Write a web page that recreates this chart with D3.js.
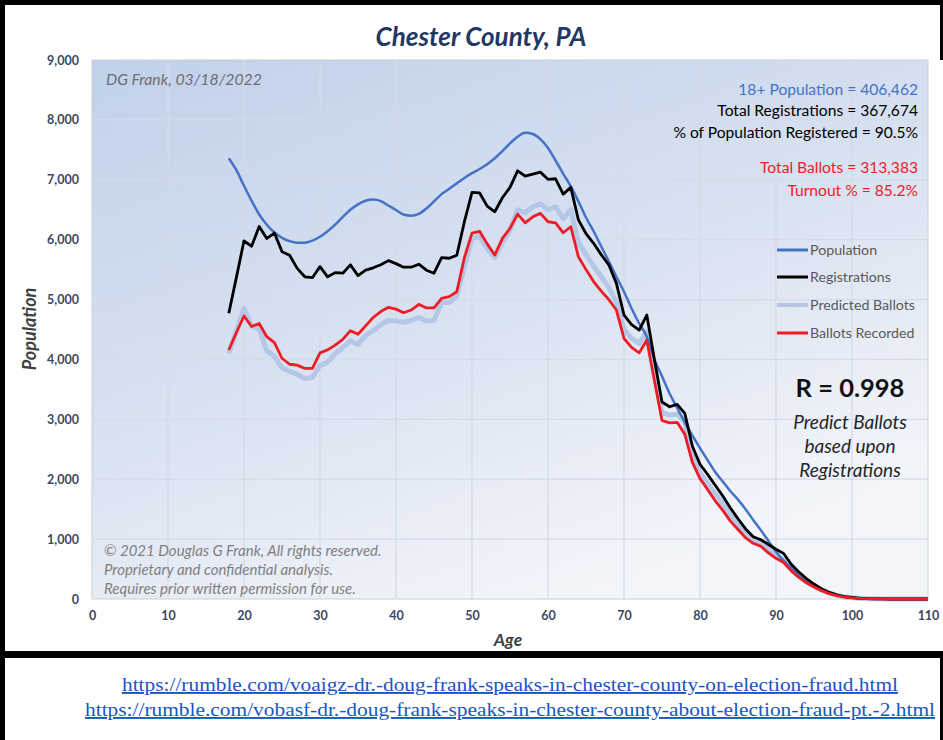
<!DOCTYPE html>
<html>
<head>
<meta charset="utf-8">
<script src="https://cdn.jsdelivr.net/npm/d3@7"></script>
<style>
  body { margin: 0; background: #fff; }
  svg { display: block; }
</style>
</head>
<body>
<div id="chart"></div>
<script>
// ages 18..110
let ages = d3.range(18, 111);

let population = [
  7360, 7160, 6900, 6650, 6420, 6250, 6120, 6030, 5975, 5950,
  5950, 5985, 6048, 6140, 6250, 6380, 6500, 6590, 6650, 6670,
  6645, 6570, 6495, 6420, 6400, 6430, 6520, 6640, 6760, 6850,
  6940, 7030, 7110, 7180, 7260, 7360, 7480, 7607, 7720, 7785,
  7765, 7680, 7530, 7320, 7100, 6890, 6640, 6370, 6140, 5890,
  5640, 5381, 5130, 4850, 4600, 4379, 4000, 3720, 3430, 3190,
  2950, 2730, 2520, 2320, 2120, 1960, 1800, 1660, 1500, 1320,
  1150, 970, 790, 640, 510, 390, 290, 210, 150, 100,
  60, 40, 25, 15, 10, 5, 3, 2, 1, 0,
  0, 0, 0
];

let registrations = [
  4770, 5370, 5980, 5890, 6220, 6020, 6110, 5800, 5740, 5520,
  5380, 5365, 5550, 5380, 5450, 5440, 5580, 5400, 5490, 5530,
  5580, 5650, 5600, 5540, 5540, 5590, 5490, 5440, 5700, 5690,
  5740, 6300, 6790, 6780, 6560, 6466, 6700, 6873, 7150, 7062,
  7095, 7128, 7007, 7017, 6761, 6873, 6330, 6100, 5940, 5750,
  5580, 5270, 4740, 4580, 4490, 4741, 4000, 3290, 3210, 3250,
  3100, 2550, 2250, 2080, 1900, 1720, 1520, 1340, 1170, 1040,
  990, 910, 830, 760, 580, 450, 340, 250, 170, 110,
  70, 40, 25, 12, 6, 3, 1, 0, 0, 0,
  0, 0, 0
];

let predicted = [
  4100, 4480, 4850, 4560, 4500, 4150, 4050, 3860, 3800, 3750,
  3680, 3700, 3900, 3950, 4100, 4200, 4310, 4250, 4400, 4480,
  4580, 4650, 4640, 4620, 4650, 4700, 4640, 4650, 4950, 4950,
  5050, 5550, 6020, 6060, 5850, 5700, 5950, 6150, 6500, 6450,
  6550, 6600, 6500, 6550, 6350, 6500, 5950, 5750, 5560, 5380,
  5200, 4960, 4500, 4350, 4270, 4460, 3760, 3110, 3070, 3090,
  2950, 2420, 2110, 1940, 1760, 1590, 1410, 1250, 1100, 990,
  930, 830, 730, 650, 510, 390, 290, 215, 150, 100,
  60, 35, 20, 11, 6, 3, 1, 0, 0, 0,
  0, 0, 0
];

let ballots = [
  4157, 4450, 4725, 4550, 4600, 4380, 4280, 4020, 3920, 3905,
  3850, 3850, 4110, 4160, 4240, 4335, 4480, 4420, 4560, 4700,
  4800, 4870, 4840, 4780, 4825, 4920, 4860, 4860, 5020, 5050,
  5130, 5700, 6110, 6140, 5930, 5743, 6022, 6188, 6427, 6282,
  6382, 6439, 6299, 6282, 6115, 6216, 5715, 5500, 5300, 5140,
  5000, 4825, 4350, 4200, 4110, 4324, 3650, 2980, 2940, 2950,
  2750, 2280, 2010, 1830, 1640, 1480, 1300, 1160, 1020, 930,
  880, 770, 680, 610, 470, 360, 270, 200, 140, 90,
  55, 30, 18, 10, 5, 2, 1, 0, 0, 0,
  0, 0, 0
];

let xTicks = [0, 10, 20, 30, 40, 50, 60, 70, 80, 90, 100, 110];
let yTicks = [0, 1000, 2000, 3000, 4000, 5000, 6000, 7000, 8000, 9000];

let seriesNames = ["Population", "Registrations", "Predicted Ballots", "Ballots Recorded"];
let seriesColors = ["#4472c4", "#000000", "#b4c7e7", "#ee1c25"];
let seriesWidths = [2.5, 2.8, 5, 2.8];

let statLines = [
  "18+ Population = 406,462",
  "Total Registrations = 367,674",
  "% of Population Registered = 90.5%",
  "Total Ballots = 313,383",
  "Turnout % = 85.2%"
];
let statColors = ["#4472c4", "#000", "#000", "#ee1c25", "#ee1c25"];

let copyright = [
  "\u00a9 2021 Douglas G Frank, All rights reserved.",
  "Proprietary and confidential analysis.",
  "Requires prior written permission for use."
];

let links = [
  "https://rumble.com/voaigz-dr.-doug-frank-speaks-in-chester-county-on-election-fraud.html",
  "https://rumble.com/vobasf-dr.-doug-frank-speaks-in-chester-county-about-election-fraud-pt.-2.html"
];
let linkWidths = [776, 850];

let width = 943, height = 740;
let font = "Lato, 'Open Sans', sans-serif";

let svg = d3.select("#chart")
    .append("svg")
    .attr("width", width)
    .attr("height", height)
    .style("font-family", font);

svg.append("rect").attr("width", width).attr("height", height).attr("fill", "#fff");

let x = d3.scaleLinear().domain([0, 110]).range([92, 928]);
let y = d3.scaleLinear().domain([0, 9000]).range([599, 60]);

// plot background gradient
let defs = svg.append("defs");
let grad = defs.append("linearGradient")
    .attr("id", "bg")
    .attr("x1", 0).attr("y1", 0).attr("x2", 0.55).attr("y2", 1);
grad.append("stop").attr("offset", "0%").attr("stop-color", "#c1d1eb");
grad.append("stop").attr("offset", "55%").attr("stop-color", "#d9e2f1");
grad.append("stop").attr("offset", "100%").attr("stop-color", "#f3f5fa");

svg.append("rect")
    .attr("x", x(0))
    .attr("y", y(9000))
    .attr("width", x(110) - x(0))
    .attr("height", y(0) - y(9000))
    .attr("fill", "url(#bg)")
    .attr("stroke", "#c9ced8")
    .attr("stroke-width", 1);

// grid
svg.append("g").selectAll("line").data(yTicks.slice(1, -1))
    .enter().append("line")
    .attr("x1", x(0)).attr("x2", x(110))
    .attr("y1", d => y(d)).attr("y2", d => y(d))
    .attr("stroke", "#d5dbe7").attr("stroke-width", 1.3);

svg.append("g").selectAll("line").data(xTicks.slice(1, -1))
    .enter().append("line")
    .attr("x1", d => x(d)).attr("x2", d => x(d))
    .attr("y1", y(9000)).attr("y2", y(0))
    .attr("stroke", "#d5dbe7").attr("stroke-width", 1.3);

// axes
let yAxis = svg.append("g")
    .attr("transform", `translate(${x(0)}, 0)`)
    .call(d3.axisLeft(y).tickValues(yTicks).tickFormat(d3.format(",")).tickSize(0).tickPadding(13));
let xAxis = svg.append("g")
    .attr("transform", `translate(0, ${y(0)})`)
    .call(d3.axisBottom(x).tickValues(xTicks).tickSize(0).tickPadding(12));

[yAxis, xAxis].forEach(function(a) {
    a.select(".domain").remove();
    a.selectAll("text")
        .style("font-family", font)
        .style("font-size", "12.5px")
        .style("font-weight", "bold")
        .attr("fill", "#3b4763");
});

// series
let line = d3.line()
    .x((d, i) => x(ages[i]))
    .y(d => y(d));
let smooth = d3.line()
    .x((d, i) => x(ages[i]))
    .y(d => y(d))
    .curve(d3.curveMonotoneX);

let drawOrder = [
    [predicted, 2, line],
    [population, 0, smooth],
    [registrations, 1, line],
    [ballots, 3, line]
];
drawOrder.forEach(function(s) {
    svg.append("path")
        .datum(s[0])
        .attr("fill", "none")
        .attr("stroke", seriesColors[s[1]])
        .attr("stroke-width", seriesWidths[s[1]])
        .attr("stroke-linejoin", "round")
        .attr("d", s[2]);
});

// title
svg.append("text")
    .attr("x", 481).attr("y", 46)
    .style("text-anchor", "middle")
    .style("font-size", "26px")
    .style("font-weight", "bold")
    .style("font-style", "italic")
    .attr("fill", "#1f3864")
    .text("Chester County, PA");

// axis titles
svg.append("text")
    .attr("transform", `translate(36, 329) rotate(-90)`)
    .style("text-anchor", "middle")
    .style("font-size", "18px")
    .style("font-weight", "bold")
    .style("font-style", "italic")
    .attr("fill", "#404040")
    .text("Population");

svg.append("text")
    .attr("x", 508).attr("y", 646)
    .style("text-anchor", "middle")
    .style("font-size", "17.5px")
    .style("font-weight", "bold")
    .style("font-style", "italic")
    .attr("fill", "#404040")
    .text("Age");

// date note
svg.append("text")
    .attr("x", 106).attr("y", 85)
    .style("font-size", "15.8px")
    .style("font-style", "italic")
    .attr("fill", "#6e6e6e")
    .text("DG Frank, 03/18/2022");

// stats
let statY = [95, 116, 138, 173, 196];
svg.append("g").selectAll("text").data(statLines)
    .enter().append("text")
    .attr("x", 918)
    .attr("y", (d, i) => statY[i])
    .style("text-anchor", "end")
    .style("font-size", "15.6px")
    .attr("fill", (d, i) => statColors[i])
    .text(d => d);

// legend
let legendY = [250, 277, 305, 333];
let legend = svg.append("g");
seriesNames.forEach(function(name, i) {
    legend.append("line")
        .attr("x1", 777).attr("x2", 808)
        .attr("y1", legendY[i]).attr("y2", legendY[i])
        .attr("stroke", seriesColors[i])
        .attr("stroke-width", i == 2 ? 4 : 3);
    legend.append("text")
        .attr("x", 810).attr("y", legendY[i] + 5)
        .style("font-size", "14.2px")
        .attr("fill", "#595959")
        .text(name);
});

// R value
svg.append("text")
    .attr("x", 850).attr("y", 397)
    .style("text-anchor", "middle")
    .style("font-size", "25.5px")
    .style("font-weight", "bold")
    .attr("fill", "#111")
    .text("R = 0.998");

let noteLines = ["Predict Ballots", "based upon", "Registrations"];
svg.append("g").selectAll("text").data(noteLines)
    .enter().append("text")
    .attr("x", 850)
    .attr("y", (d, i) => 429 + i * 24)
    .style("text-anchor", "middle")
    .style("font-size", "19px")
    .style("font-style", "italic")
    .attr("fill", "#262626")
    .text(d => d);

// copyright
svg.append("g").selectAll("text").data(copyright)
    .enter().append("text")
    .attr("x", 104)
    .attr("y", (d, i) => 556 + i * 19)
    .style("font-size", "15px")
    .style("font-style", "italic")
    .attr("fill", "#7f7f7f")
    .text(d => d);

// frame
svg.append("rect").attr("x", 0).attr("y", 0).attr("width", width).attr("height", 5).attr("fill", "#000");
svg.append("rect").attr("x", 0).attr("y", 0).attr("width", 5).attr("height", height).attr("fill", "#000");
svg.append("rect").attr("x", 940).attr("y", 0).attr("width", 3).attr("height", 60).attr("fill", "#000");
svg.append("rect").attr("x", 940).attr("y", 651).attr("width", 3).attr("height", height - 651).attr("fill", "#000");
svg.append("rect").attr("x", 0).attr("y", 651).attr("width", width).attr("height", 7).attr("fill", "#000");

// links
let linkY = [691, 716];
svg.append("g").selectAll("text").data(links)
    .enter().append("text")
    .attr("x", 510)
    .attr("y", (d, i) => linkY[i])
    .attr("textLength", (d, i) => linkWidths[i])
    .attr("lengthAdjust", "spacingAndGlyphs")
    .style("text-anchor", "middle")
    .style("font-family", "'Liberation Serif', 'Times New Roman', serif")
    .style("font-size", "19px")
    .style("text-decoration", "underline")
    .attr("fill", "#1a55c4")
    .text(d => d);
</script>
</body>
</html>
